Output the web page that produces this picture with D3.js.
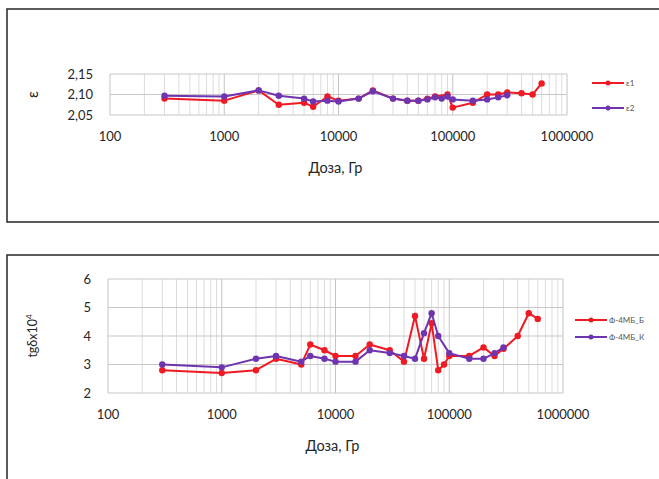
<!DOCTYPE html>
<html>
<head>
<meta charset="utf-8">
<script src="https://cdn.jsdelivr.net/npm/d3@7"></script>
<style>
  body { margin: 0; background: #fff; }
  svg { display: block; font-family: Lato, "Open Sans", sans-serif; }
</style>
</head>
<body>
<svg id="chart" width="659" height="479"></svg>
<script>
// ---- data ----
var xTicks = [100, 1000, 10000, 100000, 1000000];

// top panel: permittivity
var epsTicks = [2.05, 2.10, 2.15];
var eps1Dose = [300, 1000, 2000, 3000, 5000, 6000, 8000, 10000, 15000, 20000, 30000, 40000, 50000, 60000, 70000, 90000, 100000, 150000, 200000, 250000, 300000, 400000, 500000, 600000];
var eps1Val  = [2.09, 2.085, 2.11, 2.075, 2.08, 2.07, 2.095, 2.085, 2.09, 2.11, 2.09, 2.085, 2.085, 2.09, 2.095, 2.10, 2.068, 2.08, 2.10, 2.10, 2.105, 2.103, 2.10, 2.127];
var eps2Dose = [300, 1000, 2000, 3000, 5000, 6000, 8000, 10000, 15000, 20000, 30000, 40000, 50000, 60000, 70000, 80000, 90000, 100000, 150000, 200000, 250000, 300000];
var eps2Val  = [2.097, 2.095, 2.11, 2.097, 2.09, 2.083, 2.085, 2.083, 2.09, 2.108, 2.09, 2.085, 2.085, 2.088, 2.093, 2.09, 2.095, 2.088, 2.085, 2.088, 2.093, 2.098];

// bottom panel: loss tangent x10^4
var tgTicks = [2, 3, 4, 5, 6];
var tgBDose = [300, 1000, 2000, 3000, 5000, 6000, 8000, 10000, 15000, 20000, 30000, 40000, 50000, 60000, 70000, 80000, 90000, 100000, 150000, 200000, 250000, 300000, 400000, 500000, 600000];
var tgBVal  = [2.8, 2.7, 2.8, 3.2, 3.0, 3.7, 3.5, 3.3, 3.3, 3.7, 3.5, 3.1, 4.7, 3.2, 4.45, 2.8, 3.0, 3.3, 3.3, 3.6, 3.3, 3.55, 4.0, 4.8, 4.6];
var tgKDose = [300, 1000, 2000, 3000, 5000, 6000, 8000, 10000, 15000, 20000, 30000, 40000, 50000, 60000, 70000, 80000, 100000, 150000, 200000, 250000, 300000];
var tgKVal  = [3.0, 2.9, 3.2, 3.3, 3.1, 3.3, 3.2, 3.1, 3.1, 3.5, 3.4, 3.3, 3.2, 4.1, 4.8, 4.0, 3.4, 3.2, 3.2, 3.4, 3.6];

var red = "#f01a22", purple = "#6f35b0";

var svg = d3.select("#chart");

function zip(xs, ys) {
  return xs.map(function(d, i) { return {x: d, y: ys[i]}; });
}

function drawPanel(opt) {
  var g = svg.append("g");

  // frame round the whole chart
  g.append("rect")
    .attr("x", opt.box[0]).attr("y", opt.box[1])
    .attr("width", opt.box[2]).attr("height", opt.box[3])
    .attr("fill", "#fff").attr("stroke", "#333").attr("stroke-width", 1.6);

  var x = d3.scaleLog().domain([100, 1000000]).range([opt.left, opt.right]);
  var y = d3.scaleLinear().domain(opt.yDomain).range([opt.bottom, opt.top]);

  // minor vertical grid (2..9 in every decade)
  var minor = [];
  for (var dec = 100; dec < 1000000; dec *= 10)
    for (var k = 2; k <= 9; k++) minor.push(dec * k);
  g.selectAll(".vminor").data(minor).enter().append("line")
    .attr("x1", function(d) { return x(d); }).attr("x2", function(d) { return x(d); })
    .attr("y1", opt.top).attr("y2", opt.bottom)
    .attr("stroke", "#dcdcdc").attr("stroke-width", 1);
  g.selectAll(".vmajor").data(xTicks).enter().append("line")
    .attr("x1", function(d) { return x(d); }).attr("x2", function(d) { return x(d); })
    .attr("y1", opt.top).attr("y2", opt.bottom)
    .attr("stroke", "#c4c4c4").attr("stroke-width", 1);
  g.selectAll(".hgrid").data(opt.yTicks).enter().append("line")
    .attr("x1", opt.left).attr("x2", opt.right)
    .attr("y1", function(d) { return y(d); }).attr("y2", function(d) { return y(d); })
    .attr("stroke", "#c8c8c8").attr("stroke-width", 1.2);

  // tick labels
  g.selectAll(".xt").data(xTicks).enter().append("text")
    .attr("x", function(d) { return x(d); })
    .attr("y", opt.bottom + 26)
    .attr("text-anchor", "middle")
    .attr("font-size", 13).attr("fill", "#262626")
    .text(function(d) { return d; });
  g.selectAll(".yt").data(opt.yTicks).enter().append("text")
    .attr("x", opt.left - 17)
    .attr("y", function(d) { return y(d) + 4.5; })
    .attr("text-anchor", "end")
    .attr("font-size", 13).attr("fill", "#262626")
    .text(opt.yFormat);

  // axis titles
  g.append("text")
    .attr("x", (opt.left + opt.right) / 2 - 3)
    .attr("y", opt.bottom + 58)
    .attr("text-anchor", "middle")
    .attr("font-size", 14.5).attr("fill", "#262626")
    .text("Доза, Гр");
  g.append("text")
    .attr("transform", "translate(" + opt.yTitleX + "," + ((opt.top + opt.bottom) / 2) + ") rotate(-90)")
    .attr("text-anchor", "middle")
    .attr("dy", "0.35em")
    .attr("font-size", opt.yTitleSize).attr("fill", "#262626")
    .html(opt.yTitle);

  var line = d3.line()
    .x(function(d) { return x(d.x); })
    .y(function(d) { return y(d.y); });

  opt.series.forEach(function(s) {
    var pts = zip(s.dose, s.val);
    g.append("path").datum(pts)
      .attr("fill", "none").attr("stroke", s.color)
      .attr("stroke-width", 2).attr("stroke-linejoin", "round")
      .attr("d", line);
    g.selectAll(".pt").data(pts).enter().append("circle")
      .attr("cx", function(d) { return x(d.x); })
      .attr("cy", function(d) { return y(d.y); })
      .attr("r", 3.2).attr("fill", s.color);
  });

  // legend
  opt.series.forEach(function(s, i) {
    var ly = opt.legendY + i * opt.legendGap;
    g.append("line")
      .attr("x1", opt.legendX).attr("x2", opt.legendX + 32)
      .attr("y1", ly).attr("y2", ly)
      .attr("stroke", s.color).attr("stroke-width", 2);
    g.append("circle").attr("cx", opt.legendX + 16).attr("cy", ly).attr("r", 2.5).attr("fill", s.color);
    g.append("text")
      .attr("x", opt.legendX + 34).attr("y", ly + 3)
      .attr("font-size", 8).attr("fill", "#555")
      .text(s.name);
  });
}

drawPanel({
  box: [7, 9, 660, 213],
  left: 110, right: 567, top: 74, bottom: 115,
  yDomain: [2.05, 2.15], yTicks: epsTicks,
  yFormat: function(d) { return d3.format(".2f")(d).replace(".", ","); },
  yTitle: "ε", yTitleX: 33, yTitleSize: 15,
  legendX: 592, legendY: 83, legendGap: 25,
  series: [
    {name: "ε1", dose: eps1Dose, val: eps1Val, color: red},
    {name: "ε2", dose: eps2Dose, val: eps2Val, color: purple}
  ]
});

drawPanel({
  box: [7, 255, 660, 240],
  left: 108, right: 563, top: 279, bottom: 393,
  yDomain: [2, 6], yTicks: tgTicks,
  yFormat: function(d) { return d; },
  yTitle: "tgδx10<tspan dy='-5' font-size='8'>4</tspan>", yTitleX: 33, yTitleSize: 12.5,
  legendX: 575, legendY: 320, legendGap: 17,
  series: [
    {name: "Ф-4МБ_Б", dose: tgBDose, val: tgBVal, color: red},
    {name: "Ф-4МБ_К", dose: tgKDose, val: tgKVal, color: purple}
  ]
});
</script>
</body>
</html>
